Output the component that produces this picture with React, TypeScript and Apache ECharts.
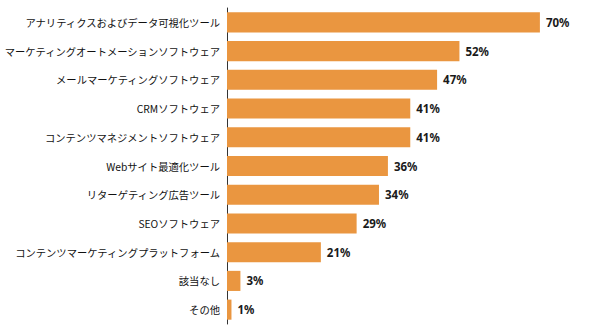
import React, { useEffect, useRef } from "react";
import * as echarts from "echarts";

const categories = [
  "アナリティクスおよびデータ可視化ツール",
  "マーケティングオートメーションソフトウェア",
  "メールマーケティングソフトウェア",
  "CRMソフトウェア",
  "コンテンツマネジメントソフトウェア",
  "Webサイト最適化ツール",
  "リターゲティング広告ツール",
  "SEOソフトウェア",
  "コンテンツマーケティングプラットフォーム",
  "該当なし",
  "その他",
];
const values = [70, 52, 47, 41, 41, 36, 34, 29, 21, 3, 1];

export default function App() {
  const ref = useRef<HTMLDivElement>(null);
  useEffect(() => {
    if (!ref.current) return;
    const chart = echarts.init(ref.current, undefined, { renderer: "svg" });
    chart.setOption({
      animation: false,
      grid: {
        left: 227,
        top: 8,
        width: 357.6,
        height: 316,
        containLabel: false,
        outerBoundsMode: "none",
      },
      xAxis: {
        type: "value",
        min: 0,
        max: 80,
        show: false,
      },
      yAxis: {
        type: "category",
        inverse: true,
        data: categories,
        axisLine: { show: true, lineStyle: { color: "#333", width: 1 } },
        axisTick: { show: false },
        axisLabel: {
          color: "#111",
          fontSize: 10.3,
          margin: 7,
          fontFamily: "'Noto Sans CJK JP', 'Noto Sans', sans-serif",
        },
      },
      series: [
        {
          type: "bar",
          data: values,
          barCategoryGap: "30%",
          itemStyle: { color: "#EA9640" },
          label: {
            show: true,
            position: "right",
            distance: 6,
            formatter: "{c}%",
            color: "#1a1a1a",
            fontWeight: "bold",
            fontSize: 11.5,
            fontFamily: "'Noto Sans', sans-serif",
          },
        },
      ],
    });
    return () => chart.dispose();
  }, []);
  return (
    <div
      ref={ref}
      style={{ width: 600, height: 336, position: "absolute", left: 0, top: 0, background: "#fff" }}
    />
  );
}
